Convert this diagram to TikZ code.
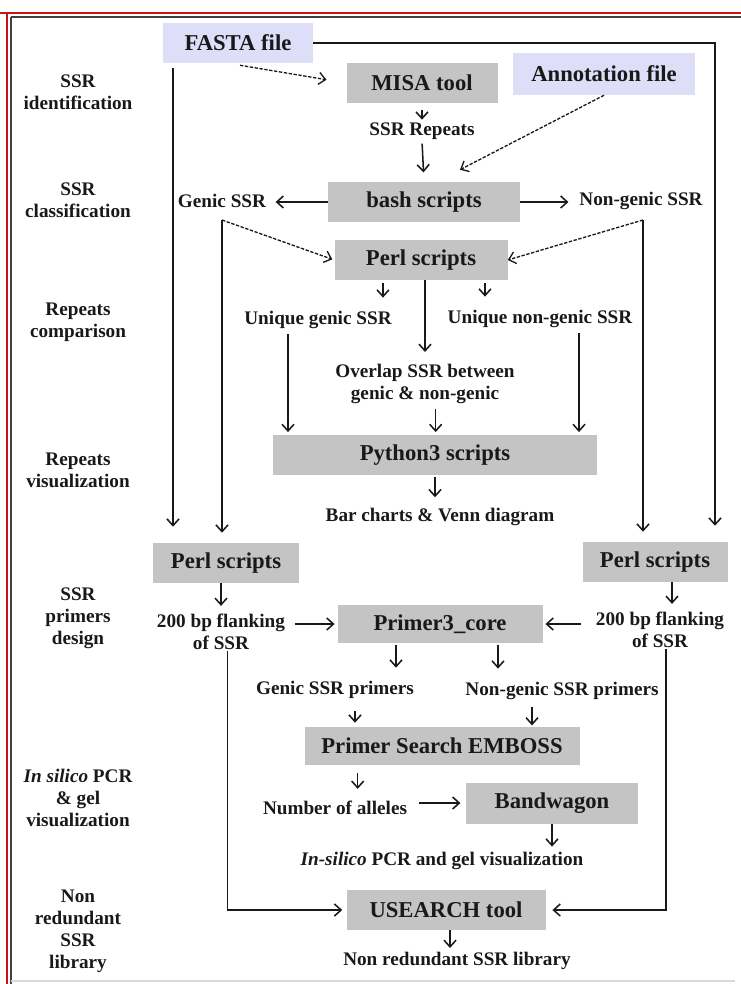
\documentclass[tikz,border=0pt]{standalone}
\usepackage{fontspec}
\setmainfont{Liberation Serif}
\usetikzlibrary{arrows.meta}
\definecolor{boxgray}{RGB}{196,196,196}
\definecolor{lav}{RGB}{222,222,248}
\definecolor{framered}{RGB}{200,20,20}
\definecolor{ink}{RGB}{25,25,25}
\newcommand\bxfont{\fontsize{17}{19}\selectfont\bfseries}
\newcommand\lbfont{\fontsize{14.4}{16.5}\selectfont\bfseries}
\begin{document}
\begin{tikzpicture}[x=0.75pt,y=-0.75pt,
  lbl/.style={font=\lbfont, inner sep=1pt, align=center, text=ink},
  box/.style={fill=boxgray, inner sep=0pt, font=\bxfont, text=ink},
  filebox/.style={fill=lav, inner sep=0pt, font=\bxfont, text=ink},
  wh/.style 2 args={minimum width=#1*0.75pt, minimum height=#2*0.75pt},
  conn/.style={draw=ink, line width=1.15pt, -{Straight Barb[length=5pt,width=9pt]}},
  dconn/.style={conn, line width=1pt, dash pattern=on 2.5pt off 1.2pt}]
\useasboundingbox (0,0) rectangle (741,984);
% frame
\draw[framered, line width=2.2pt] (0,13) -- (741,13);
\draw[framered, line width=2.2pt] (7,13) -- (7,984);
\draw[black!75, line width=1.4pt] (11,17) -- (741,17);
\draw[black!75, line width=1.4pt] (11,17) -- (11,984);
\draw[black!15, line width=0.8pt] (11,981) -- (735,981);

% left column labels
\node[lbl] (s1) at (78,92) {SSR\\identification};
\node[lbl] (s2) at (78,200) {SSR\\classification};
\node[lbl] (s3) at (78,322) {Repeats\\comparison};
\node[lbl] (s4) at (78,470) {Repeats\\visualization};
\node[lbl] (s5) at (78,618) {SSR\\primers\\design};
\node[lbl] (s6) at (78,798) {\textit{In silico} PCR\\\& gel\\visualization};
\node[lbl] (s7) at (78,931) {Non\\redundant\\SSR\\library};

% main nodes
\node[filebox, wh={150}{40}] (fasta) at (238,43) {FASTA file};
\node[box, wh={151}{40}] (misa) at (422,83) {MISA tool};
\node[filebox, wh={182}{42}] (annot) at (604,74) {Annotation file};
\node[lbl] (ssrrep) at (422,131) {SSR Repeats};
\node[box, wh={192}{40}] (bash) at (424,202) {bash scripts};
\node[lbl] (genic) at (222,201) {Genic SSR};
\node[lbl] (nongenic) at (641,201) {Non-genic SSR};
\node[box, wh={173}{40}] (perl1) at (421,260) {Perl scripts};
\node[lbl] (ugenic) at (318,320) {Unique genic SSR};
\node[lbl] (unong) at (540,319) {Unique non-genic SSR};
\node[lbl] (overlap) at (425,384) {Overlap SSR between\\genic \& non-genic};
\node[box, wh={324}{40}] (python) at (435,455) {Python3 scripts};
\node[lbl] (bar) at (440,517) {Bar charts \& Venn diagram};
\node[box, wh={146}{40}] (perlL) at (226,563) {Perl scripts};
\node[box, wh={145}{40}] (perlR) at (655,562) {Perl scripts};
\node[lbl] (flankL) at (221,632) {200 bp flanking\\of SSR};
\node[lbl] (flankR) at (660,630) {200 bp flanking\\of SSR};
\node[box, wh={205}{38}] (primer3) at (440,624) {Primer3\_core};
\node[lbl] (gprim) at (335,690) {Genic SSR primers};
\node[lbl] (nprim) at (562,691) {Non-genic SSR primers};
\node[box, wh={275}{38}] (emboss) at (442,746) {Primer Search EMBOSS};
\node[lbl] (alleles) at (335,808) {Number of alleles};
\node[box, wh={172}{41}] (band) at (552,803) {Bandwagon};
\node[lbl] (insilico) at (442,861) {\textit{In-silico} PCR and gel visualization};
\node[box, wh={199}{40}] (usearch) at (446,910) {USEARCH tool};
\node[lbl] (nonred) at (457,961) {Non redundant SSR library};

% helper coordinates
\coordinate (gc) at (222,220);
\coordinate (nc) at (643,220);
\coordinate (fl) at (173,68);
\coordinate (fr) at (715,43);

% connectors
\draw[dconn, shorten >=15pt] ([xshift=1.5pt,yshift=-1.5pt]fasta.south) -- (misa.west);
\draw[conn, shorten <=5pt, shorten >=1pt] (misa.south) -- (ssrrep.north);
\draw[conn, shorten <=2pt, shorten >=7pt] (ssrrep.south) -- (bash.north);
\draw[dconn] (annot.south) -- ([xshift=27pt,yshift=9pt]bash.north);
\draw[conn, shorten >=6pt] (bash.west) -- (bash.west -| genic.east);
\draw[conn, shorten >=7pt] (bash.east) -- (bash.east -| nongenic.west);
\draw[dconn, shorten >=1.5pt] (gc) -- (perl1.west);
\draw[dconn] (nc) -- (perl1.east);
\draw[conn, shorten >=7.5pt] (gc) -- (gc |- perlL.north);
\draw[conn, shorten >=7.5pt] (nc) -- (nc |- perlR.north);
\draw[conn, shorten >=12pt] (fl) -- (fl |- perlL.north);
\draw[conn, shorten >=12pt] (fasta.east) -- (fr) -- (fr |- perlR.north);

\draw[conn, shorten <=2pt, shorten >=9pt] ([xshift=-28.5pt]perl1.south) -- ([xshift=-28.5pt]perl1.south |- ugenic.north);
\draw[conn, shorten <=2pt, shorten >=9pt] ([xshift=48pt]perl1.south) -- ([xshift=48pt]perl1.south |- unong.north);
\draw[conn, shorten >=8pt] ([xshift=3pt]perl1.south) -- ([xshift=3pt]perl1.south |- overlap.north);
\draw[conn, shorten <=3pt, shorten >=2pt] ([xshift=-22.5pt]ugenic.south) -- ([xshift=-22.5pt]ugenic.south |- python.north);
\draw[conn, shorten <=3pt, shorten >=2pt] ([xshift=29.25pt]unong.south) -- ([xshift=29.25pt]unong.south |- python.north);
\draw[conn, shorten <=3pt, shorten >=2pt] ([xshift=8pt]overlap.south) -- ([xshift=8pt]overlap.south |- python.north);
\draw[conn, shorten <=1pt, shorten >=7pt] (python.south) -- (python.south |- bar.north);

\draw[conn, shorten >=5pt] (flankL.north |- perlL.south) -- (flankL.north);
\draw[conn, shorten >=5pt] ([xshift=12.75pt]perlR.south) -- ([xshift=12.75pt]perlR.south |- flankR.north);
\draw[conn, shorten <=6pt, shorten >=2pt] (flankL.east |- primer3.west) -- (primer3.west);
\draw[conn, shorten <=10pt, shorten >=2pt] (flankR.west |- primer3.east) -- (primer3.east);
\draw[conn, shorten <=1pt, shorten >=9pt] ([xshift=-33pt]primer3.south) -- ([xshift=-33pt]primer3.south |- gprim.north);
\draw[conn, shorten <=1pt, shorten >=9pt] ([xshift=43.5pt]primer3.south) -- ([xshift=43.5pt]primer3.south |- nprim.north);
\draw[conn, shorten <=8pt, shorten >=3pt] ([xshift=15pt]gprim.south) -- ([xshift=15pt]gprim.south |- emboss.north);
\draw[conn, shorten <=4pt, shorten >=1pt] ([xshift=-22.5pt]nprim.south) -- ([xshift=-22.5pt]nprim.south |- emboss.north);
\draw[conn, shorten <=6pt, shorten >=8pt] ([xshift=17pt]alleles.north |- emboss.south) -- ([xshift=17pt]alleles.north);
\draw[conn, shorten <=8pt, shorten >=4pt] (alleles.east |- band.west) -- (band.west);
\draw[conn, shorten >=3pt] (band.south) -- (band.south |- insilico.north);
\draw[conn, shorten >=3pt] ([xshift=5pt]flankL.south) -- ([xshift=5pt]flankL.south |- usearch.west) -- (usearch.west);
\draw[conn, shorten >=5pt] ([xshift=4.5pt]flankR.south) -- ([xshift=4.5pt]flankR.south |- usearch.east) -- (usearch.east);
\draw[conn, shorten >=2pt] ([xshift=3pt]usearch.south) -- ([xshift=3pt]usearch.south |- nonred.north);
\end{tikzpicture}
\end{document}
